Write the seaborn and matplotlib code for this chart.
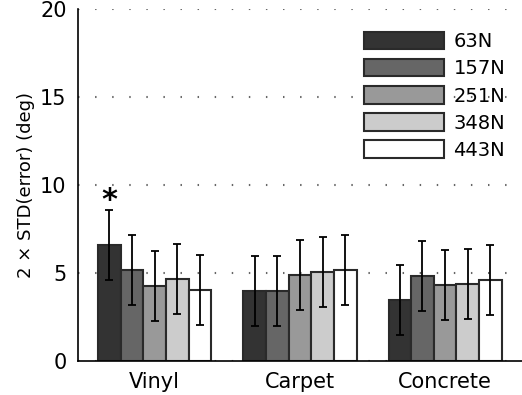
import numpy as np
import pandas as pd
import matplotlib
matplotlib.use('Agg')
import matplotlib.pyplot as plt
import seaborn as sns

# surfaces and loads
surfaces = ['Vinyl', 'Carpet', 'Concrete']
forces = ['63N', '157N', '251N', '348N', '443N']

# 2 x STD(error) per surface, one list per load
vals_63 = [6.6, 3.98, 3.47]
vals_157 = [5.17, 3.98, 4.83]
vals_251 = [4.26, 4.89, 4.32]
vals_348 = [4.66, 5.06, 4.38]
vals_443 = [4.03, 5.17, 4.6]

err_63 = [2.0, 2.0, 2.0]
err_157 = [2.0, 2.0, 2.0]
err_251 = [2.0, 2.0, 2.0]
err_348 = [2.0, 2.0, 2.0]
err_443 = [2.0, 2.0, 2.0]

colors = ['#333333', '#666666', '#999999', '#cccccc', '#ffffff']

rows = []
for f, v, e in zip(forces,
                   [vals_63, vals_157, vals_251, vals_348, vals_443],
                   [err_63, err_157, err_251, err_348, err_443]):
    for s, vi, ei in zip(surfaces, v, e):
        rows.append({'surface': s, 'force': f, 'value': vi, 'err': ei})
df = pd.DataFrame(rows)

sns.set_style('white')
plt.rcParams['font.family'] = ['DejaVu Sans']
plt.rcParams['text.color'] = 'black'
plt.rcParams['xtick.color'] = 'black'
plt.rcParams['ytick.color'] = 'black'
plt.rcParams['axes.labelcolor'] = 'black'

fig = plt.figure(figsize=(5.22, 3.95), dpi=100)
ax = fig.add_axes([0.149, 0.086, 0.851, 0.891])

sns.barplot(data=df, x='surface', y='value', hue='force', order=surfaces,
            hue_order=forces, palette=colors, width=0.78, errorbar=None,
            edgecolor='#2a2a2a', linewidth=1.5, saturation=1, legend=False, ax=ax)

# error bars on top of each bar
for cont, f in zip(ax.containers, forces):
    sub = df[df['force'] == f].set_index('surface').loc[surfaces]
    xs = [p.get_x() + p.get_width() / 2 for p in cont.patches]
    ax.errorbar(xs, sub['value'], yerr=sub['err'], fmt='none', ecolor='black',
                elinewidth=1.3, capsize=3, capthick=1.3, zorder=5)

# significance marker
vin = ax.containers[0].patches[0]
ax.text(vin.get_x() + vin.get_width() / 2, 8.3, '*', ha='center', va='bottom',
        fontsize=22, fontweight='bold')

ax.set_ylim(0, 20)
ax.set_yticks([0, 5, 10, 15, 20])
ax.yaxis.grid(True, linestyle=(0, (0.7, 7.5)), color='#666666', linewidth=1.5)
ax.set_axisbelow(True)
for side in ['top', 'right']:
    ax.spines[side].set_visible(False)
for side in ['left', 'bottom']:
    ax.spines[side].set_color('black')
    ax.spines[side].set_linewidth(1.2)
ax.tick_params(axis='both', length=0, labelsize=15, pad=8)
ax.set_xlabel('')
ax.set_ylabel('2 × STD(error) (deg)', fontsize=13)

ax.legend(handles=list(ax.containers), labels=forces, loc='upper left',
          bbox_to_anchor=(0.605, 0.985), frameon=False, fontsize=14,
          handlelength=4.1, handleheight=1.0, labelspacing=0.4, handletextpad=0.5)

fig.savefig('out.png', dpi=100)
